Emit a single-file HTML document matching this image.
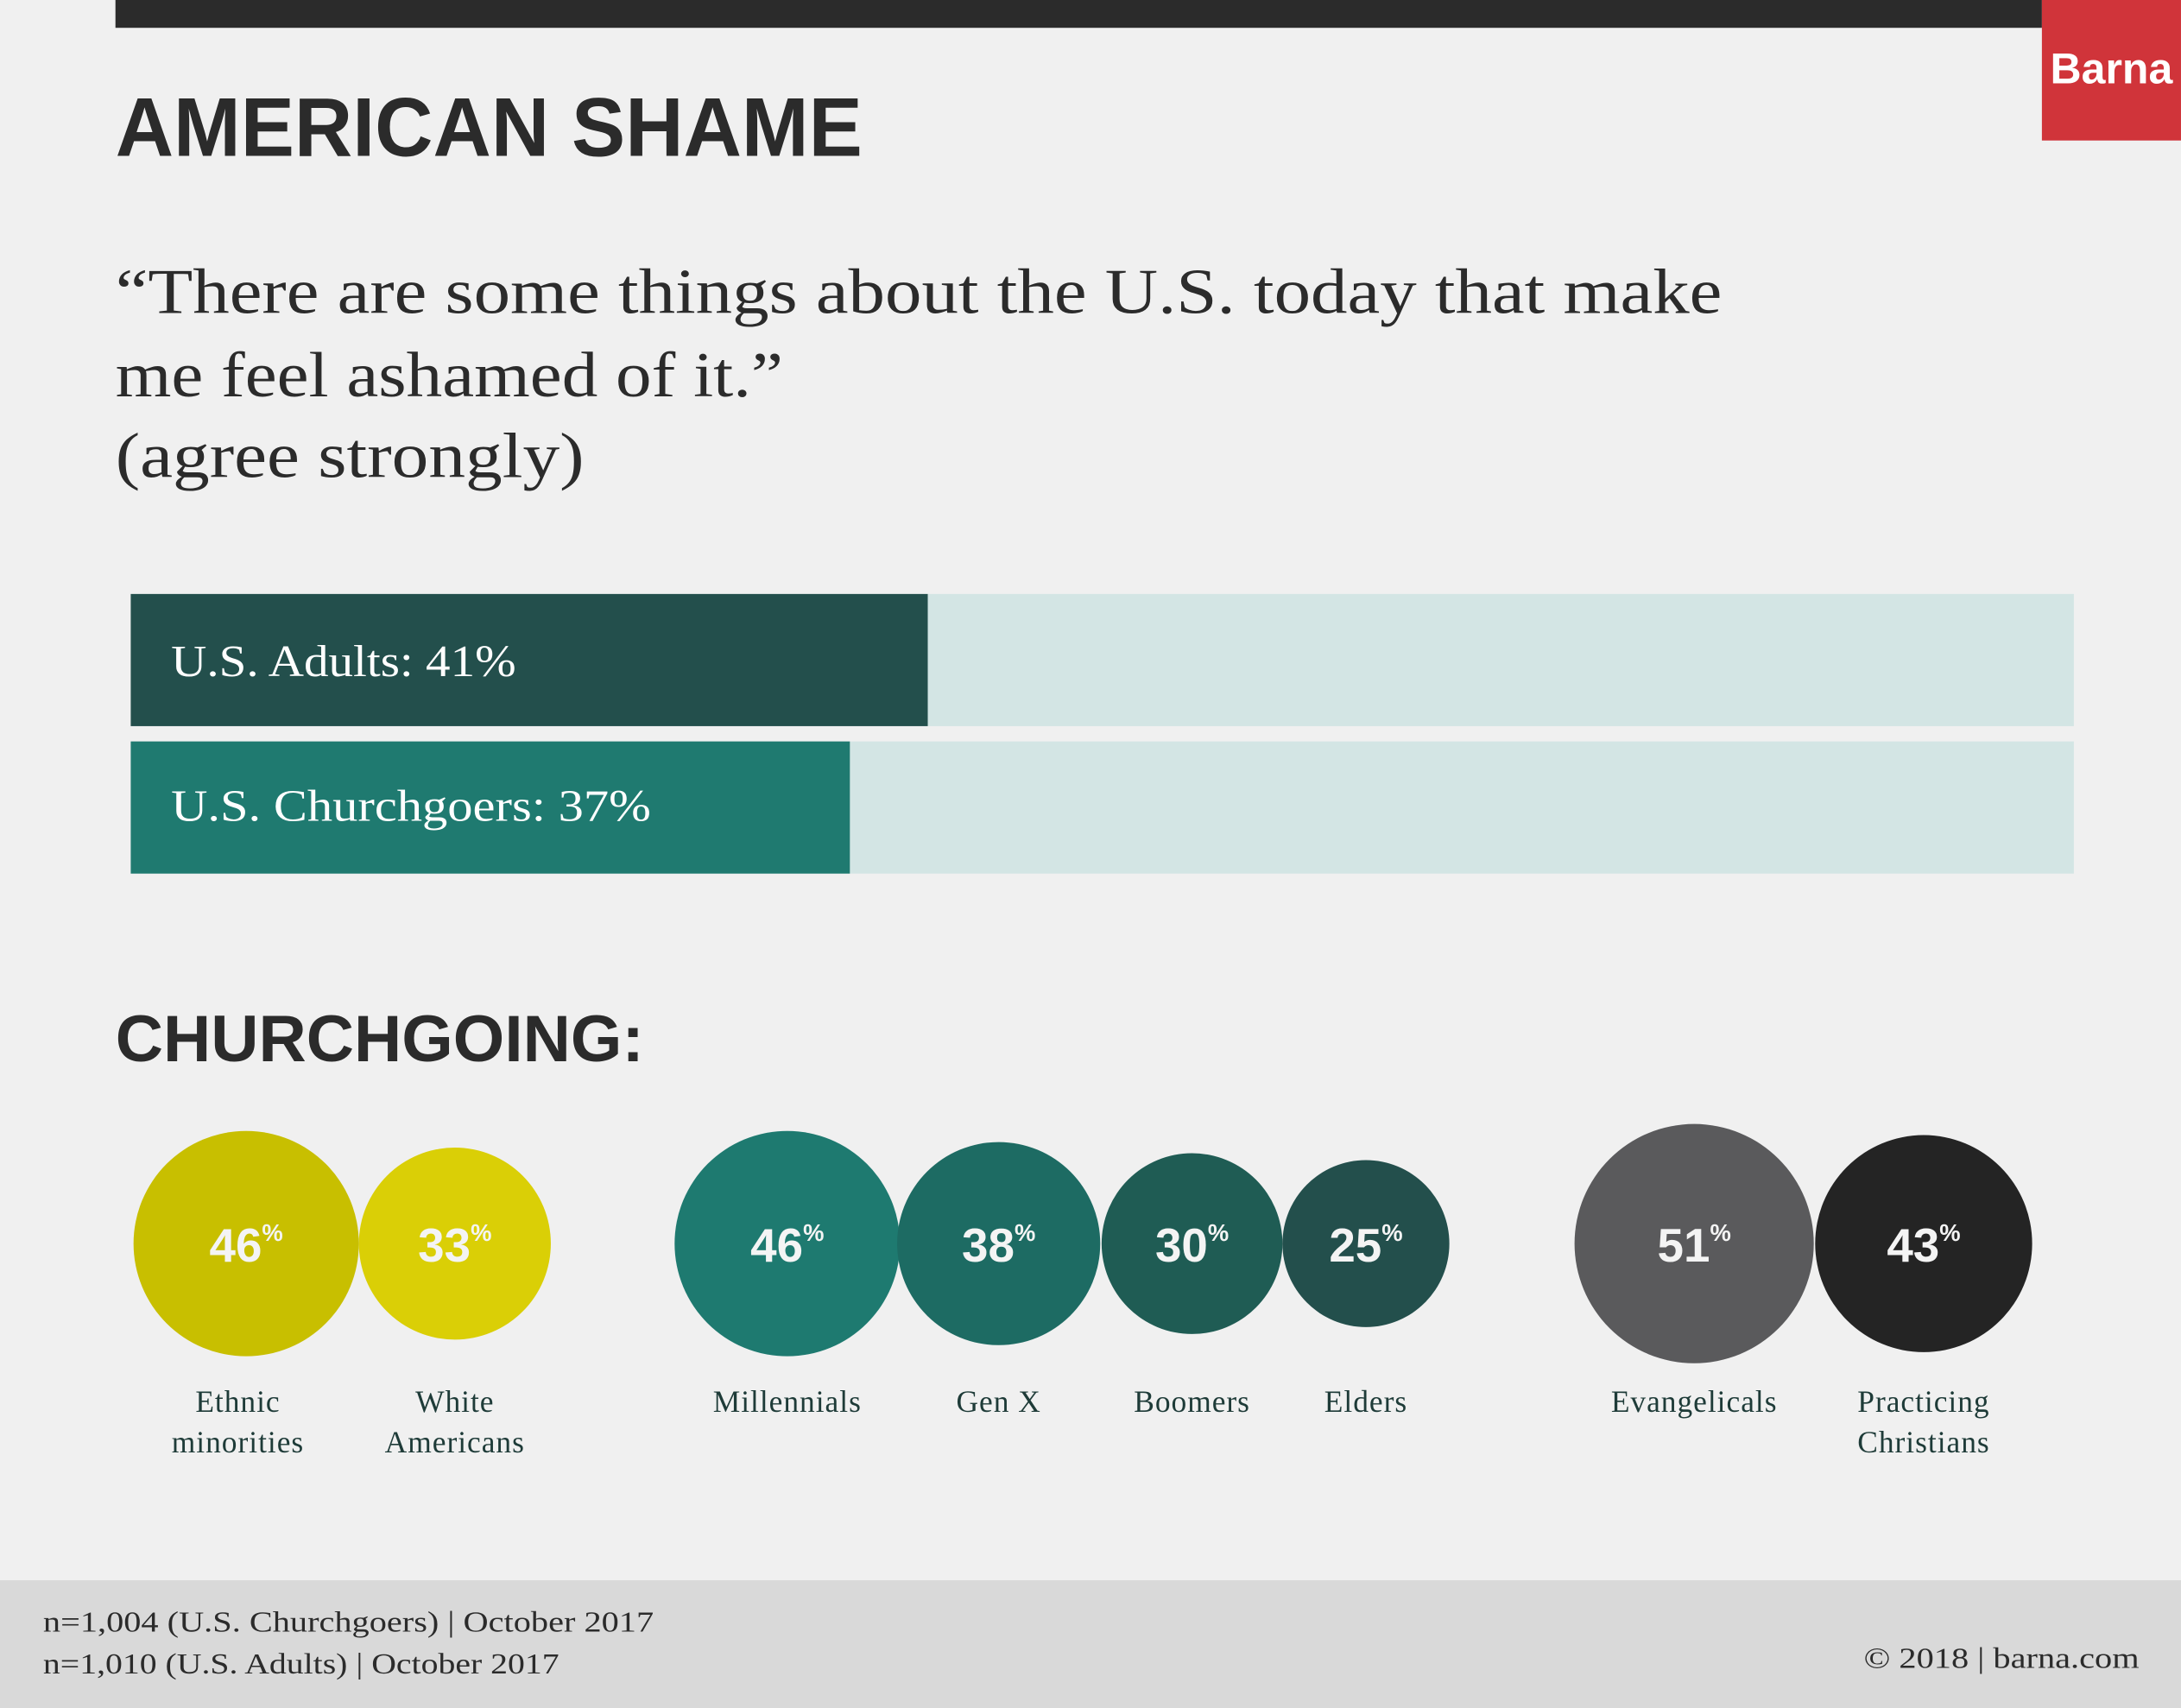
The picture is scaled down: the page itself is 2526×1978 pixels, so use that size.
<!DOCTYPE html>
<html><head><meta charset="utf-8"><style>
html,body{margin:0;padding:0;background:#f0f0f0;overflow:hidden}
#w{width:1568px;height:1228px;transform:scale(1.61096);transform-origin:0 0}
svg text{font-family:"Liberation Serif",serif}
.s{font-family:"Liberation Sans",sans-serif !important;font-weight:bold}
</style></head><body><div id="w">
<svg width="1568" height="1228" viewBox="0 0 1568 1228" xmlns="http://www.w3.org/2000/svg">
<rect width="1568" height="1228" fill="#f0f0f0"/>
<rect x="83" y="0" width="1385" height="20" fill="#2b2b2b"/>
<rect x="1468" y="0" width="100" height="101" fill="#d0343a"/>
<text class="s" x="1518" y="60" font-size="31" fill="#fff" text-anchor="middle" textLength="88" lengthAdjust="spacingAndGlyphs">Barna</text>
<text class="s" x="83" y="112" font-size="60" fill="#2b2b2b" textLength="537" lengthAdjust="spacingAndGlyphs">AMERICAN SHAME</text>
<g font-size="46" fill="#2b2b2b">
<text x="83" y="225" textLength="1155" lengthAdjust="spacingAndGlyphs">“There are some things about the U.S. today that make</text>
<text x="83" y="285" textLength="480" lengthAdjust="spacingAndGlyphs">me feel ashamed of it.”</text>
<text x="83" y="343" textLength="337" lengthAdjust="spacingAndGlyphs">(agree strongly)</text>
</g>
<rect x="94" y="427" width="1397" height="95" fill="#d3e5e4"/>
<rect x="94" y="427" width="573" height="95" fill="#234f4c"/>
<rect x="94" y="533" width="1397" height="95" fill="#d3e5e4"/>
<rect x="94" y="533" width="517" height="95" fill="#1f7a70"/>
<text x="123" y="486" font-size="32" fill="#fff" textLength="248" lengthAdjust="spacingAndGlyphs">U.S. Adults: 41%</text>
<text x="123" y="590" font-size="32" fill="#fff" textLength="345" lengthAdjust="spacingAndGlyphs">U.S. Churchgoers: 37%</text>
<text class="s" x="83" y="763" font-size="47" fill="#2b2b2b" textLength="380" lengthAdjust="spacingAndGlyphs">CHURCHGOING:</text>
<circle cx="177" cy="894" r="81" fill="#c8bf00"/>
<circle cx="327" cy="894" r="69" fill="#dacf06"/>
<circle cx="566" cy="894" r="81" fill="#1e7a70"/>
<circle cx="718" cy="894" r="73" fill="#1d6b63"/>
<circle cx="857" cy="894" r="65" fill="#1f5c54"/>
<circle cx="982" cy="894" r="60" fill="#234f4c"/>
<circle cx="1218" cy="894" r="86" fill="#5a5a5c"/>
<circle cx="1383" cy="894" r="78" fill="#242424"/>
<g fill="#f4f4f4" class="s" font-size="34">
<text class="s" x="177" y="907" text-anchor="middle">46<tspan font-size="17" dy="-15">%</tspan></text>
<text class="s" x="327" y="907" text-anchor="middle">33<tspan font-size="17" dy="-15">%</tspan></text>
<text class="s" x="566" y="907" text-anchor="middle">46<tspan font-size="17" dy="-15">%</tspan></text>
<text class="s" x="718" y="907" text-anchor="middle">38<tspan font-size="17" dy="-15">%</tspan></text>
<text class="s" x="857" y="907" text-anchor="middle">30<tspan font-size="17" dy="-15">%</tspan></text>
<text class="s" x="982" y="907" text-anchor="middle">25<tspan font-size="17" dy="-15">%</tspan></text>
<text class="s" x="1218" y="907" text-anchor="middle">51<tspan font-size="17" dy="-15">%</tspan></text>
<text class="s" x="1383" y="907" text-anchor="middle">43<tspan font-size="17" dy="-15">%</tspan></text>
</g>
<g font-size="22" fill="#1e3b38" text-anchor="middle" letter-spacing="0.6">
<text x="171" y="1015">Ethnic</text><text x="171" y="1044">minorities</text>
<text x="327" y="1015">White</text><text x="327" y="1044">Americans</text>
<text x="566" y="1015">Millennials</text>
<text x="718" y="1015">Gen X</text>
<text x="857" y="1015">Boomers</text>
<text x="982" y="1015">Elders</text>
<text x="1218" y="1015">Evangelicals</text>
<text x="1383" y="1015">Practicing</text><text x="1383" y="1044">Christians</text>
</g>
<rect x="0" y="1136" width="1568" height="92" fill="#d9d9d9"/>
<g font-size="21" fill="#2b2b2b">
<text x="31" y="1173" textLength="439" lengthAdjust="spacingAndGlyphs">n=1,004 (U.S. Churchgoers) | October 2017</text>
<text x="31" y="1203" textLength="371" lengthAdjust="spacingAndGlyphs">n=1,010 (U.S. Adults) | October 2017</text>
<text x="1538" y="1199" text-anchor="end" textLength="198" lengthAdjust="spacingAndGlyphs">© 2018 | barna.com</text>
</g>
</svg></div></body></html>
